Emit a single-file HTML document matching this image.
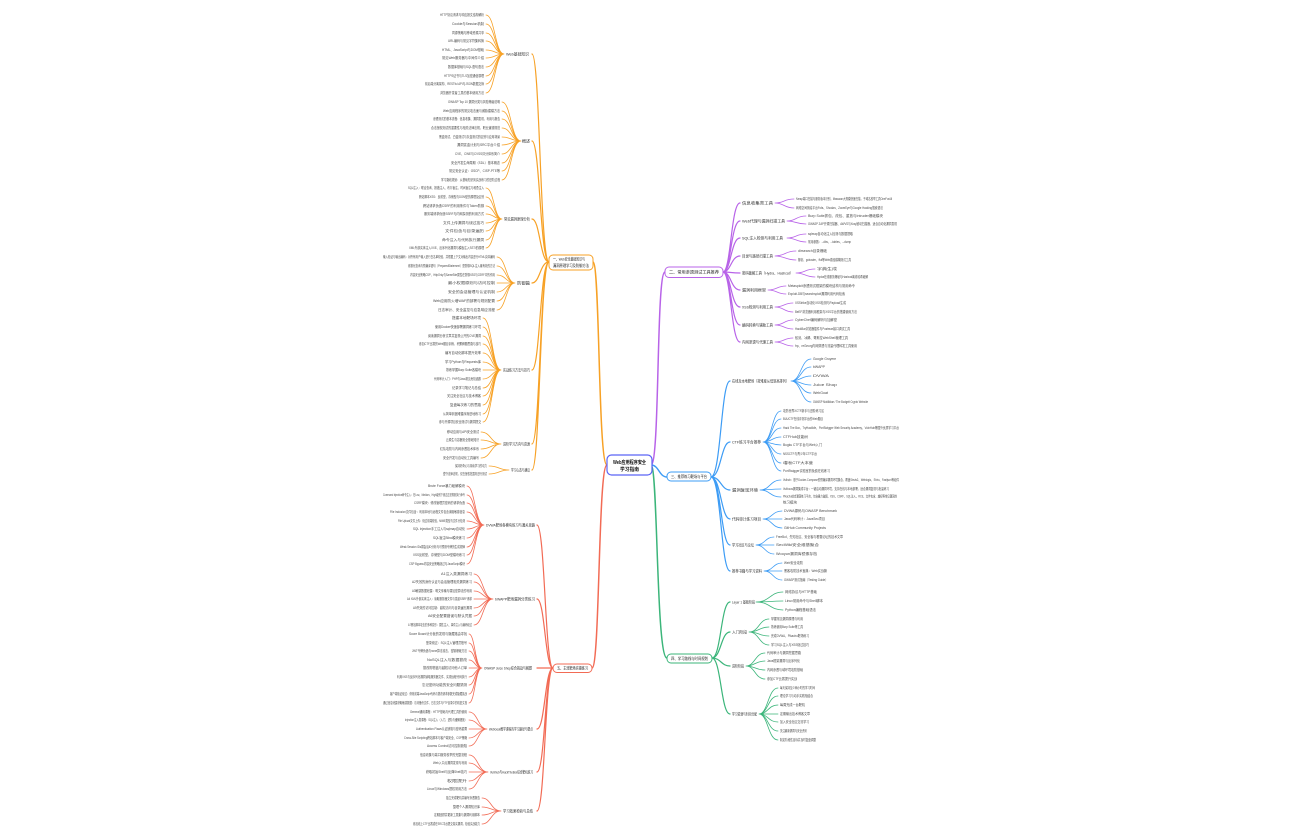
<!DOCTYPE html>
<html><head><meta charset="utf-8"><style>
html,body{margin:0;padding:0;background:#fff;}
svg{display:block;}
text{font-family:"Liberation Sans","Noto Sans CJK SC",sans-serif;fill:#444;}
.g{font-size:3.4px;fill:#4a4a4a;}
.c{font-size:3.8px;fill:#333;}
.n{font-size:4px;fill:#222;}
.m{font-size:5px;font-weight:bold;fill:#111;}
path{fill:none;stroke-linecap:round;}
</style></head><body>
<svg width="1296" height="840" viewBox="0 0 1296 840" xmlns="http://www.w3.org/2000/svg">

<!-- main branches -->
<path d="M651 465C660 465 656 272 665 272" stroke="#b863e8" stroke-width="1.5"/>
<path d="M651 465C659 465 659 477 667 477" stroke="#3d9cf5" stroke-width="1.5"/>
<path d="M651 465C658 465 656 658 667 658" stroke="#3bb57a" stroke-width="1.5"/>
<path d="M607 465C598 465 600 262 593 262" stroke="#f7a125" stroke-width="1.5"/>
<path d="M607 465C598 465 600 668 592 668" stroke="#f26b55" stroke-width="1.5"/>

<!-- PURPLE -->
<g stroke="#b863e8">
<path stroke-width="1.2" d="M723 272C731 272 731 203 740 203M723 272C731 272 731 221 740 221M723 272C731 272 731 238 740 238M723 272C731 272 731 256 740 256M723 272C731 272 731 273 740 273M723 272C731 272 731 290 740 290M723 272C731 272 731 307 740 307M723 272C731 272 731 325 740 325M723 272C731 272 731 342 740 342"/>
<path stroke-width="0.8" d="M775 203C784 203 784 199 794 199M775 203C784 203 784 208 794 208M787 221C796 221 796 216 806 216M787 221C796 221 796 224 806 224M787 238C796 238 796 234 806 234M787 238C796 238 796 242 806 242M775 256C785 256 785 251 796 251M775 256C785 256 785 260 796 260M796 273C805 273 805 269 815 269M796 273C805 273 805 277 815 277M768 290C777 290 777 286 786 286M768 290C777 290 777 294 786 294M775 307C784 307 784 303 793 303M775 307C784 307 784 312 793 312M775 325C784 325 784 320 793 320M775 325C784 325 784 329 793 329M775 342C784 342 784 338 793 338M775 342C784 342 784 346 793 346"/>
</g>
<rect x="665" y="267" width="58" height="10.5" rx="4" fill="#fff" stroke="#b863e8" stroke-width="1"/>
<text class="n" x="669" y="273.6" textLength="50" lengthAdjust="spacingAndGlyphs">二、常用渗透测试工具推荐</text>
<text class="c" x="742" y="204.3" textLength="31" lengthAdjust="spacingAndGlyphs">信息收集类工具</text>
<text class="c" x="742" y="222.3" textLength="43" lengthAdjust="spacingAndGlyphs">Web代理与漏洞扫描工具</text>
<text class="c" x="742" y="239.3" textLength="41" lengthAdjust="spacingAndGlyphs">SQL注入检测与利用工具</text>
<text class="c" x="742" y="257.3" textLength="31" lengthAdjust="spacingAndGlyphs">目录与路径扫描工具</text>
<text class="c" x="742" y="274.3" textLength="51" lengthAdjust="spacingAndGlyphs">密码破解工具（Hydra、Hashcat）</text>
<text class="c" x="742" y="291.3" textLength="24" lengthAdjust="spacingAndGlyphs">漏洞利用框架</text>
<text class="c" x="742" y="308.3" textLength="31" lengthAdjust="spacingAndGlyphs">XSS检测与利用工具</text>
<text class="c" x="742" y="326.3" textLength="31" lengthAdjust="spacingAndGlyphs">编码转换与辅助工具</text>
<text class="c" x="742" y="343.3" textLength="31" lengthAdjust="spacingAndGlyphs">内网渗透与代理工具</text>
<text class="g" x="796" y="200.2" textLength="96" lengthAdjust="spacingAndGlyphs">Nmap端口扫描与服务版本识别，Masscan大规模快速扫描，子域名枚举工具OneForAll</text>
<text class="g" x="796" y="209.2" textLength="87" lengthAdjust="spacingAndGlyphs">网络空间测绘平台Fofa、Shodan、ZoomEye与Google Hacking搜索语法</text>
<text class="g" x="808" y="217.2" textLength="75" lengthAdjust="spacingAndGlyphs">Burp Suite抓包、改包、重放与Intruder爆破模块</text>
<text class="g" x="808" y="225.2" textLength="89" lengthAdjust="spacingAndGlyphs">OWASP ZAP开源扫描器、AWVS与Xray被动扫描器，适合自动化漏洞发现</text>
<text class="g" x="808" y="235.2" textLength="45" lengthAdjust="spacingAndGlyphs">sqlmap自动化注入检测与数据提取</text>
<text class="g" x="808" y="243.2" textLength="43" lengthAdjust="spacingAndGlyphs">常用参数：--dbs、--tables、--dump</text>
<text class="g" x="798" y="252.2" textLength="29" lengthAdjust="spacingAndGlyphs">dirsearch目录爆破</text>
<text class="g" x="798" y="261.2" textLength="53" lengthAdjust="spacingAndGlyphs">御剑、gobuster、ffuf等Web路径模糊测试工具</text>
<text class="g" x="817" y="270.2" textLength="20" lengthAdjust="spacingAndGlyphs">字典生成</text>
<text class="g" x="817" y="278.2" textLength="51" lengthAdjust="spacingAndGlyphs">Hydra在线服务爆破与Hashcat离线哈希破解</text>
<text class="g" x="788" y="287.2" textLength="67" lengthAdjust="spacingAndGlyphs">Metasploit渗透测试框架的模块结构与常用命令</text>
<text class="g" x="788" y="295.2" textLength="57" lengthAdjust="spacingAndGlyphs">Exploit-DB与searchsploit漏洞利用代码检索</text>
<text class="g" x="795" y="304.2" textLength="51" lengthAdjust="spacingAndGlyphs">XSStrike自动化XSS检测与Payload生成</text>
<text class="g" x="795" y="313.2" textLength="62" lengthAdjust="spacingAndGlyphs">BeEF浏览器利用框架与XSS平台的搭建使用方法</text>
<text class="g" x="795" y="321.2" textLength="42" lengthAdjust="spacingAndGlyphs">CyberChef编码解码与加解密</text>
<text class="g" x="795" y="330.2" textLength="55" lengthAdjust="spacingAndGlyphs">HackBar浏览器插件与Postman接口调试工具</text>
<text class="g" x="795" y="339.2" textLength="53" lengthAdjust="spacingAndGlyphs">蚁剑、冰蝎、哥斯拉WebShell管理工具</text>
<text class="g" x="795" y="347.2" textLength="62" lengthAdjust="spacingAndGlyphs">frp、reGeorg内网穿透与流量代理转发工具使用</text>

<!-- BLUE -->
<g stroke="#3d9cf5">
<path stroke-width="1.2" d="M711 477C721 477 721 381 730 381M711 477C721 477 721 442 730 442M711 477C721 477 721 490 730 490M711 477C721 477 721 519 730 519M711 477C721 477 721 545 730 545M711 477C721 477 721 571 730 571"/>
<path stroke-width="0.8" d="M791 381C801 381 801 359 811 359M791 381C801 381 801 367 811 367M791 381C801 381 801 376 811 376M791 381C801 381 801 385 811 385M791 381C801 381 801 393 811 393M791 381C801 381 801 402 811 402
M763 442C772 442 772 411 781 411M763 442C772 442 772 419 781 419M763 442C772 442 772 428 781 428M763 442C772 442 772 437 781 437M763 442C772 442 772 445 781 445M763 442C772 442 772 454 781 454M763 442C772 442 772 463 781 463M763 442C772 442 772 471 781 471
M760 490C770 490 770 480 781 480M760 490C770 490 770 489 781 489M760 490C770 490 770 497 781 497
M763 519C772 519 772 511 782 511M763 519C772 519 772 519 782 519M763 519C772 519 772 528 782 528
M756 545C765 545 765 537 774 537M756 545C765 545 765 545 774 545M756 545C765 545 765 554 774 554
M764 571C773 571 773 563 782 563M764 571C773 571 773 571 782 571M764 571C773 571 773 580 782 580"/>
</g>
<rect x="667" y="472" width="44" height="9" rx="4" fill="#fff" stroke="#3d9cf5" stroke-width="1"/>
<text class="n" x="671" y="477.8" textLength="36" lengthAdjust="spacingAndGlyphs">三、推荐练习靶场与平台</text>
<text class="c" x="732" y="382.3" textLength="57" lengthAdjust="spacingAndGlyphs">在线及本地靶场（按难度从低到高排列）</text>
<text class="c" x="732" y="443.3" textLength="29" lengthAdjust="spacingAndGlyphs">CTF练习平台推荐</text>
<text class="c" x="732" y="491.3" textLength="26" lengthAdjust="spacingAndGlyphs">漏洞复现环境</text>
<text class="c" x="732" y="520.3" textLength="29" lengthAdjust="spacingAndGlyphs">代码审计练习项目</text>
<text class="c" x="732" y="546.3" textLength="22" lengthAdjust="spacingAndGlyphs">学习社区与论坛</text>
<text class="c" x="732" y="572.3" textLength="30" lengthAdjust="spacingAndGlyphs">推荐书籍与学习资料</text>
<text class="g" x="813" y="360.2" textLength="23" lengthAdjust="spacingAndGlyphs">Google Gruyere</text>
<text class="g" x="813" y="368.2" textLength="12" lengthAdjust="spacingAndGlyphs">bWAPP</text>
<text class="g" x="813" y="377.2" textLength="16" lengthAdjust="spacingAndGlyphs">DVWA</text>
<text class="g" x="813" y="386.2" textLength="24" lengthAdjust="spacingAndGlyphs">Juice Shop</text>
<text class="g" x="813" y="394.2" textLength="15" lengthAdjust="spacingAndGlyphs">WebGoat</text>
<text class="g" x="813" y="403.2" textLength="55" lengthAdjust="spacingAndGlyphs">OWASP Mutillidae / The Bodgeit Crypto Website</text>
<text class="g" x="783" y="412.2" textLength="41" lengthAdjust="spacingAndGlyphs">攻防世界XCTF新手与进阶练习区</text>
<text class="g" x="783" y="420.2" textLength="40" lengthAdjust="spacingAndGlyphs">BUUCTF在线评测平台的Web题目</text>
<text class="g" x="783" y="429.2" textLength="116" lengthAdjust="spacingAndGlyphs">Hack The Box、TryHackMe、PortSwigger Web Security Academy、VulnHub等国外优质学习平台</text>
<text class="g" x="783" y="438.2" textLength="25" lengthAdjust="spacingAndGlyphs">CTFHub技能树</text>
<text class="g" x="783" y="446.2" textLength="39" lengthAdjust="spacingAndGlyphs">Bugku CTF平台与Web入门</text>
<text class="g" x="783" y="455.2" textLength="34" lengthAdjust="spacingAndGlyphs">NSSCTF与青少年CTF平台</text>
<text class="g" x="783" y="464.2" textLength="30" lengthAdjust="spacingAndGlyphs">i春秋CTF大本营</text>
<text class="g" x="783" y="472.2" textLength="47" lengthAdjust="spacingAndGlyphs">PortSwigger实验室的免费在线练习</text>
<text class="g" x="783" y="481.2" textLength="116" lengthAdjust="spacingAndGlyphs">Vulhub：基于Docker-Compose的预编译漏洞环境集合，覆盖Struts2、Weblogic、Shiro、Fastjson等组件</text>
<text class="g" x="783" y="490.2" textLength="106" lengthAdjust="spacingAndGlyphs">Vulfocus漏洞集成平台：一键启动漏洞环境，支持在线与本地部署，适合漏洞复现与批量练习</text>
<text class="g" x="783" y="497.7" textLength="114" lengthAdjust="spacingAndGlyphs">Pikachu综合漏洞练习平台，包含暴力破解、XSS、CSRF、SQL注入、RCE、文件包含、越权等常见漏洞的</text>
<text class="g" x="783" y="503.5" textLength="14" lengthAdjust="spacingAndGlyphs">练习模块</text>
<text class="g" x="784" y="512.2" textLength="53" lengthAdjust="spacingAndGlyphs">DVWA源码与OWASP Benchmark</text>
<text class="g" x="784" y="520.2" textLength="41" lengthAdjust="spacingAndGlyphs">Java代码审计：JavaSec项目</text>
<text class="g" x="784" y="529.2" textLength="42" lengthAdjust="spacingAndGlyphs">GitHub Community Projects</text>
<text class="g" x="776" y="538.2" textLength="67" lengthAdjust="spacingAndGlyphs">FreeBuf、先知社区、安全客与看雪论坛的技术文章</text>
<text class="g" x="776" y="546.2" textLength="43" lengthAdjust="spacingAndGlyphs">SecWiki安全维基聚合</text>
<text class="g" x="776" y="555.2" textLength="41" lengthAdjust="spacingAndGlyphs">Wooyun漏洞库镜像存档</text>
<text class="g" x="784" y="564.2" textLength="19" lengthAdjust="spacingAndGlyphs">Web安全攻防</text>
<text class="g" x="784" y="572.2" textLength="43" lengthAdjust="spacingAndGlyphs">黑客攻防技术宝典：Web实战篇</text>
<text class="g" x="784" y="581.2" textLength="44" lengthAdjust="spacingAndGlyphs">OWASP测试指南（Testing Guide）</text>

<!-- GREEN -->
<g stroke="#3bb57a">
<path stroke-width="1.2" d="M712 658C721 658 721 602 730 602M712 658C721 658 721 632 730 632M712 658C721 658 721 666 730 666M712 658C721 658 721 714 730 714"/>
<path stroke-width="0.8" d="M756 602C770 602 770 592 783 592M756 602C770 602 770 601 783 601M756 602C770 602 770 610 783 610
M749 632C759 632 759 619 769 619M749 632C759 632 759 627 769 627M749 632C759 632 759 636 769 636M749 632C759 632 759 645 769 645
M746 666C755 666 755 653 765 653M746 666C755 666 755 661 765 661M746 666C755 666 755 670 765 670M746 666C755 666 755 679 765 679
M759 714C768 714 768 688 778 688M759 714C768 714 768 696 778 696M759 714C768 714 768 705 778 705M759 714C768 714 768 714 778 714M759 714C768 714 768 722 778 722M759 714C768 714 768 731 778 731M759 714C768 714 768 740 778 740"/>
</g>
<rect x="667" y="654" width="45" height="9" rx="4" fill="#fff" stroke="#3bb57a" stroke-width="1"/>
<text class="n" x="671" y="659.8" textLength="37" lengthAdjust="spacingAndGlyphs">四、学习路线与时间规划</text>
<text class="c" x="732" y="603.3" textLength="23" lengthAdjust="spacingAndGlyphs">Layer 1 基础阶段</text>
<text class="c" x="732" y="633.3" textLength="15" lengthAdjust="spacingAndGlyphs">入门阶段</text>
<text class="c" x="732" y="667.3" textLength="12" lengthAdjust="spacingAndGlyphs">进阶阶段</text>
<text class="c" x="732" y="715.3" textLength="25" lengthAdjust="spacingAndGlyphs">学习资源与时间分配</text>
<text class="g" x="785" y="593.2" textLength="32" lengthAdjust="spacingAndGlyphs">网络协议与HTTP基础</text>
<text class="g" x="785" y="602.2" textLength="38" lengthAdjust="spacingAndGlyphs">Linux常用命令与Shell脚本</text>
<text class="g" x="785" y="611.2" textLength="31" lengthAdjust="spacingAndGlyphs">Python编程基础语法</text>
<text class="g" x="771" y="620.2" textLength="32" lengthAdjust="spacingAndGlyphs">掌握常见漏洞原理与利用</text>
<text class="g" x="771" y="628.2" textLength="32" lengthAdjust="spacingAndGlyphs">熟练使用Burp Suite等工具</text>
<text class="g" x="771" y="637.2" textLength="38" lengthAdjust="spacingAndGlyphs">完成DVWA、Pikachu靶场练习</text>
<text class="g" x="771" y="646.2" textLength="38" lengthAdjust="spacingAndGlyphs">学习SQL注入与XSS绕过技巧</text>
<text class="g" x="767" y="654.2" textLength="34" lengthAdjust="spacingAndGlyphs">代码审计与漏洞挖掘思路</text>
<text class="g" x="767" y="662.2" textLength="33" lengthAdjust="spacingAndGlyphs">Java框架漏洞与反序列化</text>
<text class="g" x="767" y="671.2" textLength="36" lengthAdjust="spacingAndGlyphs">内网渗透与域环境攻防基础</text>
<text class="g" x="767" y="680.2" textLength="30" lengthAdjust="spacingAndGlyphs">参加CTF比赛提升实战</text>
<text class="g" x="780" y="689.2" textLength="35" lengthAdjust="spacingAndGlyphs">每天保持至少两小时的学习时间</text>
<text class="g" x="780" y="697.2" textLength="33" lengthAdjust="spacingAndGlyphs">理论学习与动手实践相结合</text>
<text class="g" x="780" y="706.2" textLength="25" lengthAdjust="spacingAndGlyphs">每周完成一台靶机</text>
<text class="g" x="780" y="715.2" textLength="30" lengthAdjust="spacingAndGlyphs">定期输出技术博客文章</text>
<text class="g" x="780" y="723.2" textLength="29" lengthAdjust="spacingAndGlyphs">加入安全社区交流学习</text>
<text class="g" x="780" y="732.2" textLength="27" lengthAdjust="spacingAndGlyphs">关注最新漏洞与安全资讯</text>
<text class="g" x="780" y="741.2" textLength="36" lengthAdjust="spacingAndGlyphs">制定阶段性目标并及时复盘调整</text>

<!-- ORANGE -->
<g stroke="#f7a125">
<path stroke-width="1.2" d="M549 262C540 262 540 54 532 54M549 262C540 262 540 141 532 141M549 262C540 262 540 219 532 219M549 262C540 262 540 283 532 283M549 262C540 262 540 370 532 370M549 262C540 262 540 444 532 444M549 262C540 262 540 470 532 470"/>
<path stroke-width="0.8" d="M504 54C495 54 495 15 486 15M504 54C495 54 495 24 486 24M504 54C495 54 495 33 486 33M504 54C495 54 495 41 486 41M504 54C495 54 495 50 486 50M504 54C495 54 495 58 486 58M504 54C495 54 495 67 486 67M504 54C495 54 495 76 486 76M504 54C495 54 495 84 486 84M504 54C495 54 495 93 486 93
M521 141C511 141 511 102 502 102M521 141C511 141 511 111 502 111M521 141C511 141 511 119 502 119M521 141C511 141 511 128 502 128M521 141C511 141 511 137 502 137M521 141C511 141 511 145 502 145M521 141C511 141 511 154 502 154M521 141C511 141 511 163 502 163M521 141C511 141 511 171 502 171M521 141C511 141 511 180 502 180
M502 219C494 219 494 188 486 188M502 219C494 219 494 197 486 197M502 219C494 219 494 206 486 206M502 219C494 219 494 214 486 214M502 219C494 219 494 223 486 223M502 219C494 219 494 231 486 231M502 219C494 219 494 240 486 240M502 219C494 219 494 248 486 248
M515 283C506 283 506 257 497 257M515 283C506 283 506 266 497 266M515 283C506 283 506 275 497 275M515 283C506 283 506 283 497 283M515 283C506 283 506 292 497 292M515 283C506 283 506 301 497 301M515 283C506 283 506 310 497 310
M501 370C492 370 492 318 483 318M501 370C492 370 492 327 483 327M501 370C492 370 492 336 483 336M501 370C492 370 492 344 483 344M501 370C492 370 492 353 483 353M501 370C492 370 492 362 483 362M501 370C492 370 492 370 483 370M501 370C492 370 492 379 483 379M501 370C492 370 492 388 483 388M501 370C492 370 492 396 483 396M501 370C492 370 492 405 483 405M501 370C492 370 492 414 483 414M501 370C492 370 492 422 483 422
M501 444C491 444 491 432 481 432M501 444C491 444 491 440 481 440M501 444C491 444 491 449 481 449M501 444C491 444 491 458 481 458
M509 470C499 470 499 466 489 466M509 470C499 470 499 474 489 474"/>
</g>
<rect x="549" y="255" width="44" height="15" rx="4" fill="#fff" stroke="#f7a125" stroke-width="1"/>
<text class="n" x="553" y="260.6" textLength="32" lengthAdjust="spacingAndGlyphs">一、Web安全基础知识与</text>
<text class="n" x="553" y="266.9" textLength="36" lengthAdjust="spacingAndGlyphs">漏洞原理学习及防御方法</text>
<text class="c" x="506" y="55.3" textLength="23" lengthAdjust="spacingAndGlyphs">Web基础知识</text>
<text class="c" x="522" y="142.3" textLength="8" lengthAdjust="spacingAndGlyphs">概述</text>
<text class="c" x="504" y="220.3" textLength="26" lengthAdjust="spacingAndGlyphs">常见漏洞原理分析</text>
<text class="c" x="517" y="284.3" textLength="13" lengthAdjust="spacingAndGlyphs">防御篇</text>
<text class="c" x="503" y="371.3" textLength="27" lengthAdjust="spacingAndGlyphs">实战练习方法与技巧</text>
<text class="c" x="503" y="445.3" textLength="27" lengthAdjust="spacingAndGlyphs">进阶学习方向与资源</text>
<text class="c" x="511" y="471.3" textLength="19" lengthAdjust="spacingAndGlyphs">学习心态与建议</text>
<text class="g" x="440" y="16.2" textLength="44" lengthAdjust="spacingAndGlyphs">HTTP协议请求与响应报文结构解析</text>
<text class="g" x="452" y="25.2" textLength="32" lengthAdjust="spacingAndGlyphs">Cookie与Session机制</text>
<text class="g" x="452" y="34.2" textLength="32" lengthAdjust="spacingAndGlyphs">同源策略与跨域资源共享</text>
<text class="g" x="448" y="42.2" textLength="36" lengthAdjust="spacingAndGlyphs">URL编码与常见字符集转换</text>
<text class="g" x="442" y="51.2" textLength="42" lengthAdjust="spacingAndGlyphs">HTML、JavaScript与DOM基础</text>
<text class="g" x="442" y="59.2" textLength="42" lengthAdjust="spacingAndGlyphs">常见Web服务器与中间件介绍</text>
<text class="g" x="448" y="68.2" textLength="36" lengthAdjust="spacingAndGlyphs">数据库基础与SQL语句语法</text>
<text class="g" x="444" y="77.2" textLength="40" lengthAdjust="spacingAndGlyphs">HTTPS证书与TLS加密通信原理</text>
<text class="g" x="425" y="85.2" textLength="59" lengthAdjust="spacingAndGlyphs">前后端分离架构、RESTful API与JSON数据交换</text>
<text class="g" x="440" y="94.2" textLength="44" lengthAdjust="spacingAndGlyphs">浏览器开发者工具的基本使用方法</text>
<text class="g" x="448" y="103.2" textLength="52" lengthAdjust="spacingAndGlyphs">OWASP Top 10 漏洞分类与风险等级说明</text>
<text class="g" x="443" y="112.2" textLength="57" lengthAdjust="spacingAndGlyphs">Web应用程序的常见攻击面与威胁建模方法</text>
<text class="g" x="433" y="120.2" textLength="67" lengthAdjust="spacingAndGlyphs">渗透测试的基本流程：信息收集、漏洞发现、利用与报告</text>
<text class="g" x="431" y="129.2" textLength="69" lengthAdjust="spacingAndGlyphs">合法授权测试的重要性与相关法律法规、职业道德规范</text>
<text class="g" x="439" y="138.2" textLength="61" lengthAdjust="spacingAndGlyphs">黑盒测试、白盒测试与灰盒测试的区别与应用场景</text>
<text class="g" x="457" y="146.2" textLength="43" lengthAdjust="spacingAndGlyphs">漏洞赏金计划与SRC平台介绍</text>
<text class="g" x="455" y="155.2" textLength="45" lengthAdjust="spacingAndGlyphs">CVE、CWE与CVSS评分体系简介</text>
<text class="g" x="451" y="164.2" textLength="49" lengthAdjust="spacingAndGlyphs">安全开发生命周期（SDL）基本概念</text>
<text class="g" x="449" y="172.2" textLength="51" lengthAdjust="spacingAndGlyphs">常见安全认证：OSCP、CISP-PTE等</text>
<text class="g" x="441" y="181.2" textLength="59" lengthAdjust="spacingAndGlyphs">学习路线规划：从基础知识到实战练习的进阶过程</text>
<text class="g" x="408" y="189.2" textLength="76" lengthAdjust="spacingAndGlyphs">SQL注入：联合查询、报错注入、布尔盲注、时间盲注与堆叠注入</text>
<text class="g" x="419" y="198.2" textLength="65" lengthAdjust="spacingAndGlyphs">跨站脚本XSS：反射型、存储型与DOM型的原理及区别</text>
<text class="g" x="423" y="207.2" textLength="61" lengthAdjust="spacingAndGlyphs">跨站请求伪造CSRF的利用条件与Token防御</text>
<text class="g" x="424" y="215.2" textLength="60" lengthAdjust="spacingAndGlyphs">服务端请求伪造SSRF与内网探测的利用方式</text>
<text class="g" x="443" y="224.2" textLength="41" lengthAdjust="spacingAndGlyphs">文件上传漏洞与绕过技巧</text>
<text class="g" x="445" y="232.2" textLength="39" lengthAdjust="spacingAndGlyphs">文件包含与目录遍历</text>
<text class="g" x="442" y="241.2" textLength="42" lengthAdjust="spacingAndGlyphs">命令注入与代码执行漏洞</text>
<text class="g" x="409" y="249.2" textLength="75" lengthAdjust="spacingAndGlyphs">XML外部实体注入XXE、反序列化漏洞与模板注入SSTI的原理</text>
<text class="g" x="383" y="258.2" textLength="112" lengthAdjust="spacingAndGlyphs">输入验证与输出编码：对所有用户输入进行白名单校验，并根据上下文对输出内容进行HTML实体编码</text>
<text class="g" x="408" y="267.2" textLength="87" lengthAdjust="spacingAndGlyphs">参数化查询与预编译语句（PreparedStatement）是防御SQL注入最有效的方法</text>
<text class="g" x="410" y="276.2" textLength="85" lengthAdjust="spacingAndGlyphs">内容安全策略CSP、HttpOnly与SameSite属性在防御XSS与CSRF中的作用</text>
<text class="g" x="448" y="284.2" textLength="47" lengthAdjust="spacingAndGlyphs">最小权限原则与访问控制</text>
<text class="g" x="448" y="293.2" textLength="47" lengthAdjust="spacingAndGlyphs">安全的会话管理与认证机制</text>
<text class="g" x="433" y="302.2" textLength="62" lengthAdjust="spacingAndGlyphs">Web应用防火墙WAF的部署与规则配置</text>
<text class="g" x="438" y="311.2" textLength="57" lengthAdjust="spacingAndGlyphs">日志审计、安全监控与应急响应流程</text>
<text class="g" x="452" y="319.2" textLength="29" lengthAdjust="spacingAndGlyphs">搭建本地靶场环境</text>
<text class="g" x="435" y="328.2" textLength="46" lengthAdjust="spacingAndGlyphs">使用Docker快速部署漏洞练习环境</text>
<text class="g" x="428" y="337.2" textLength="53" lengthAdjust="spacingAndGlyphs">阅读漏洞分析文章并复现公开的CVE漏洞</text>
<text class="g" x="419" y="345.2" textLength="62" lengthAdjust="spacingAndGlyphs">参加CTF比赛的Web题目训练，积累解题思路与技巧</text>
<text class="g" x="445" y="354.2" textLength="36" lengthAdjust="spacingAndGlyphs">编写自动化脚本提升效率</text>
<text class="g" x="445" y="363.2" textLength="36" lengthAdjust="spacingAndGlyphs">学习Python与Requests库</text>
<text class="g" x="446" y="371.2" textLength="35" lengthAdjust="spacingAndGlyphs">熟练掌握Burp Suite各模块</text>
<text class="g" x="434" y="380.2" textLength="47" lengthAdjust="spacingAndGlyphs">代码审计入门：PHP与Java常见危险函数</text>
<text class="g" x="452" y="389.2" textLength="29" lengthAdjust="spacingAndGlyphs">记录学习笔记与总结</text>
<text class="g" x="447" y="397.2" textLength="34" lengthAdjust="spacingAndGlyphs">关注安全社区与技术博客</text>
<text class="g" x="450" y="406.2" textLength="31" lengthAdjust="spacingAndGlyphs">复盘每次练习的思路</text>
<text class="g" x="443" y="415.2" textLength="38" lengthAdjust="spacingAndGlyphs">从简单到困难循序渐进地练习</text>
<text class="g" x="439" y="423.2" textLength="42" lengthAdjust="spacingAndGlyphs">参与开源项目安全测试与漏洞提交</text>
<text class="g" x="447" y="433.2" textLength="32" lengthAdjust="spacingAndGlyphs">移动应用与API安全测试</text>
<text class="g" x="446" y="441.2" textLength="33" lengthAdjust="spacingAndGlyphs">云原生与容器安全基础知识</text>
<text class="g" x="440" y="450.2" textLength="39" lengthAdjust="spacingAndGlyphs">红队攻防与内网渗透技术体系</text>
<text class="g" x="443" y="459.2" textLength="36" lengthAdjust="spacingAndGlyphs">安全开发与自动化工具编写</text>
<text class="g" x="455" y="467.2" textLength="32" lengthAdjust="spacingAndGlyphs">保持好奇心与持续学习的动力</text>
<text class="g" x="443" y="475.2" textLength="44" lengthAdjust="spacingAndGlyphs">遵守法律法规，仅在授权范围内进行测试</text>

<!-- RED -->
<g stroke="#f26b55">
<path stroke-width="1.2" d="M553 668C545 668 545 525 537 525M553 668C545 668 545 599 537 599M553 668C545 668 545 668 537 668M553 668C545 668 545 729 537 729M553 668C545 668 545 772 537 772M553 668C545 668 545 811 537 811"/>
<path stroke-width="0.8" d="M484 525C475 525 475 486 467 486M484 525C475 525 475 495 467 495M484 525C475 525 475 503 467 503M484 525C475 525 475 512 467 512M484 525C475 525 475 521 467 521M484 525C475 525 475 529 467 529M484 525C475 525 475 538 467 538M484 525C475 525 475 547 467 547M484 525C475 525 475 555 467 555M484 525C475 525 475 564 467 564
M493 599C483 599 483 574 474 574M493 599C483 599 483 582 474 582M493 599C483 599 483 591 474 591M493 599C483 599 483 599 474 599M493 599C483 599 483 608 474 608M493 599C483 599 483 616 474 616M493 599C483 599 483 625 474 625
M482 668C475 668 475 634 469 634M482 668C475 668 475 643 469 643M482 668C475 668 475 651 469 651M482 668C475 668 475 660 469 660M482 668C475 668 475 668 469 668M482 668C475 668 475 677 469 677M482 668C475 668 475 685 469 685M482 668C475 668 475 694 469 694M482 668C475 668 475 703 469 703
M487 729C478 729 478 712 469 712M487 729C478 729 478 720 469 720M487 729C478 729 478 729 469 729M487 729C478 729 478 738 469 738M487 729C478 729 478 746 469 746
M488 772C478 772 478 755 469 755M488 772C478 772 478 763 469 763M488 772C478 772 478 772 469 772M488 772C478 772 478 781 469 781M488 772C478 772 478 789 469 789
M501 811C491 811 491 798 482 798M501 811C491 811 491 807 482 807M501 811C491 811 491 815 482 815M501 811C491 811 491 824 482 824"/>
</g>
<rect x="553" y="664" width="39" height="8.5" rx="4" fill="#fff" stroke="#f26b55" stroke-width="1"/>
<text class="n" x="557" y="669.6" textLength="31" lengthAdjust="spacingAndGlyphs">五、主流靶场实操练习</text>
<text class="c" x="486" y="526.3" textLength="49" lengthAdjust="spacingAndGlyphs">DVWA靶场各模块练习与通关思路</text>
<text class="c" x="495" y="600.3" textLength="40" lengthAdjust="spacingAndGlyphs">bWAPP靶场漏洞分类练习</text>
<text class="c" x="484" y="669.3" textLength="48" lengthAdjust="spacingAndGlyphs">OWASP Juice Shop综合挑战与解题</text>
<text class="c" x="489" y="730.3" textLength="44" lengthAdjust="spacingAndGlyphs">WebGoat教学课程的学习路径与要点</text>
<text class="c" x="490" y="773.3" textLength="43" lengthAdjust="spacingAndGlyphs">Vulnhub与HackTheBox综合靶机练习</text>
<text class="c" x="503" y="812.3" textLength="30" lengthAdjust="spacingAndGlyphs">学习效果检验与总结</text>
<text class="g" x="428" y="487.2" textLength="37" lengthAdjust="spacingAndGlyphs">Brute Force暴力破解模块</text>
<text class="g" x="383" y="496.2" textLength="82" lengthAdjust="spacingAndGlyphs">Command Injection命令注入：在Low、Medium、High级别下绕过过滤规则执行命令</text>
<text class="g" x="414" y="504.2" textLength="51" lengthAdjust="spacingAndGlyphs">CSRF模块：修改管理员密码的请求伪造</text>
<text class="g" x="390" y="513.2" textLength="75" lengthAdjust="spacingAndGlyphs">File Inclusion文件包含：利用本地与远程文件包含读取敏感信息</text>
<text class="g" x="398" y="522.2" textLength="67" lengthAdjust="spacingAndGlyphs">File Upload文件上传：绕过前端校验、MIME类型与文件头检测</text>
<text class="g" x="413" y="530.2" textLength="52" lengthAdjust="spacingAndGlyphs">SQL Injection手工注入与sqlmap自动化</text>
<text class="g" x="433" y="539.2" textLength="32" lengthAdjust="spacingAndGlyphs">SQL盲注Blind模块练习</text>
<text class="g" x="400" y="548.2" textLength="65" lengthAdjust="spacingAndGlyphs">Weak Session IDs弱会话ID分析与可预测令牌的生成规律</text>
<text class="g" x="413" y="556.2" textLength="52" lengthAdjust="spacingAndGlyphs">XSS反射型、存储型与DOM型模块练习</text>
<text class="g" x="409" y="565.2" textLength="56" lengthAdjust="spacingAndGlyphs">CSP Bypass内容安全策略绕过与JavaScript模块</text>
<text class="g" x="441" y="575.2" textLength="31" lengthAdjust="spacingAndGlyphs">A1注入类漏洞练习</text>
<text class="g" x="412" y="583.2" textLength="60" lengthAdjust="spacingAndGlyphs">A2失效的身份认证与会话管理相关漏洞练习</text>
<text class="g" x="412" y="592.2" textLength="60" lengthAdjust="spacingAndGlyphs">A3敏感数据泄露：明文传输与弱加密算法的利用</text>
<text class="g" x="407" y="600.2" textLength="65" lengthAdjust="spacingAndGlyphs">A4 XML外部实体注入：读取服务器文件与发起SSRF请求</text>
<text class="g" x="413" y="609.2" textLength="59" lengthAdjust="spacingAndGlyphs">A5失效的访问控制：越权访问与目录遍历漏洞</text>
<text class="g" x="428" y="617.2" textLength="44" lengthAdjust="spacingAndGlyphs">A6安全配置错误与默认凭据</text>
<text class="g" x="408" y="626.2" textLength="64" lengthAdjust="spacingAndGlyphs">A7跨站脚本攻击的多种变形：属性注入、事件注入与编码绕过</text>
<text class="g" x="409" y="635.2" textLength="58" lengthAdjust="spacingAndGlyphs">Score Board计分板的发现与隐藏路由寻找</text>
<text class="g" x="426" y="644.2" textLength="41" lengthAdjust="spacingAndGlyphs">登录绕过：SQL注入管理员账号</text>
<text class="g" x="412" y="652.2" textLength="55" lengthAdjust="spacingAndGlyphs">JWT令牌伪造与none算法攻击、密钥爆破方法</text>
<text class="g" x="427" y="661.2" textLength="40" lengthAdjust="spacingAndGlyphs">NoSQL注入与数据篡改</text>
<text class="g" x="423" y="669.2" textLength="44" lengthAdjust="spacingAndGlyphs">篡改购物篮与越权访问他人订单</text>
<text class="g" x="397" y="678.2" textLength="70" lengthAdjust="spacingAndGlyphs">利用XXE与反序列化漏洞读取服务器文件、实现远程代码执行</text>
<text class="g" x="422" y="686.2" textLength="45" lengthAdjust="spacingAndGlyphs">忘记密码功能的安全问题猜测</text>
<text class="g" x="390" y="695.2" textLength="77" lengthAdjust="spacingAndGlyphs">客户端验证绕过：修改前端JavaScript代码与篡改请求参数完成隐藏挑战</text>
<text class="g" x="383" y="704.2" textLength="84" lengthAdjust="spacingAndGlyphs">通过信息泄露获取敏感数据：访问备份文件、日志文件与FTP目录中的机密文档</text>
<text class="g" x="410" y="713.2" textLength="57" lengthAdjust="spacingAndGlyphs">General通用课程：HTTP基础与代理工具的使用</text>
<text class="g" x="405" y="721.2" textLength="62" lengthAdjust="spacingAndGlyphs">Injection注入类课程：SQL注入（入门、进阶与缓解措施）</text>
<text class="g" x="416" y="730.2" textLength="51" lengthAdjust="spacingAndGlyphs">Authentication Flaws认证缺陷与密码重置</text>
<text class="g" x="404" y="739.2" textLength="63" lengthAdjust="spacingAndGlyphs">Cross-Site Scripting跨站脚本与客户端安全、CSP策略</text>
<text class="g" x="427" y="747.2" textLength="40" lengthAdjust="spacingAndGlyphs">Access Control访问控制缺陷</text>
<text class="g" x="420" y="756.2" textLength="47" lengthAdjust="spacingAndGlyphs">信息收集与端口服务枚举的完整流程</text>
<text class="g" x="433" y="764.2" textLength="34" lengthAdjust="spacingAndGlyphs">Web入口点漏洞发现与利用</text>
<text class="g" x="426" y="773.2" textLength="41" lengthAdjust="spacingAndGlyphs">获取初始Shell与反弹Shell技巧</text>
<text class="g" x="447" y="782.2" textLength="20" lengthAdjust="spacingAndGlyphs">权限提升</text>
<text class="g" x="427" y="790.2" textLength="40" lengthAdjust="spacingAndGlyphs">Linux与Windows提权常用方法</text>
<text class="g" x="446" y="799.2" textLength="34" lengthAdjust="spacingAndGlyphs">独立完成靶机并编写渗透报告</text>
<text class="g" x="453" y="808.2" textLength="27" lengthAdjust="spacingAndGlyphs">整理个人漏洞知识库</text>
<text class="g" x="434" y="816.2" textLength="46" lengthAdjust="spacingAndGlyphs">定期回顾并更新工具集与漏洞利用脚本</text>
<text class="g" x="413" y="825.2" textLength="67" lengthAdjust="spacingAndGlyphs">参加线上CTF比赛或在SRC平台提交真实漏洞，检验实战能力</text>

<!-- CENTER -->
<rect x="607" y="455" width="45" height="20" rx="4.5" fill="#fff" stroke="#5b63f5" stroke-width="1.2"/>
<text class="m" x="613" y="464" textLength="33" lengthAdjust="spacingAndGlyphs">Web应用程序安全</text>
<text class="m" x="620" y="471" textLength="19" lengthAdjust="spacingAndGlyphs">学习指南</text>
</svg>
</body></html>
